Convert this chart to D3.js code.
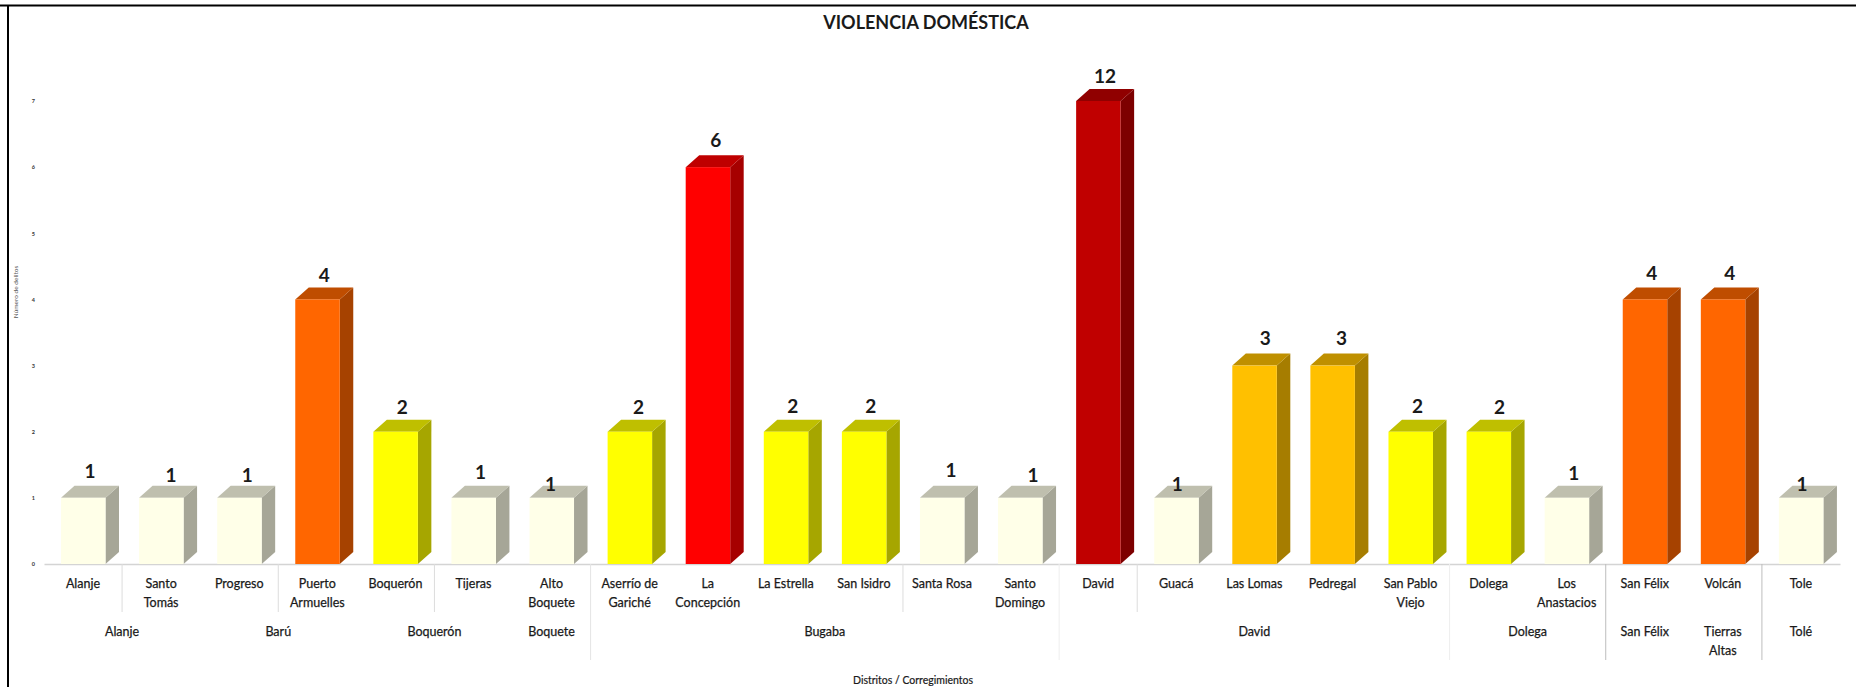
<!DOCTYPE html>
<html>
<head>
<meta charset="utf-8">
<script src="https://cdn.jsdelivr.net/npm/d3@7"></script>
<style>
  html, body { margin: 0; padding: 0; background: #fff; }
  svg { display: block; }
  text { font-family: Lato, "Open Sans", sans-serif; fill: #1a1a1a; }
</style>
</head>
<body>
<svg id="chart" width="1856" height="687"></svg>
<script>
// "|" marks the line break in a label
var corregimientos = ["Alanje", "Santo|Tomás", "Progreso", "Puerto|Armuelles", "Boquerón", "Tijeras",
    "Alto|Boquete", "Aserrío de|Gariché", "La|Concepción", "La Estrella", "San Isidro", "Santa Rosa",
    "Santo|Domingo", "David", "Guacá", "Las Lomas", "Pedregal", "San Pablo|Viejo", "Dolega",
    "Los|Anastacios", "San Félix", "Volcán", "Tole"];
var delitos = [1, 1, 1, 4, 2, 1, 1, 2, 6, 2, 2, 1, 1, 12, 1, 3, 3, 2, 2, 1, 4, 4, 1];
var distritos = ["Alanje", "Barú", "Boquerón", "Boquete", "Bugaba", "David", "Dolega", "San Félix", "Tierras|Altas", "Tolé"];
var distritoSize = [2, 2, 2, 1, 6, 5, 2, 1, 1, 1];
var yTicks = [0, 1, 2, 3, 4, 5, 6, 7];
var colorValues = [1, 2, 3, 4, 6, 12];
var colorFills = ["#ffffe8", "#ffff00", "#ffc000", "#ff6600", "#ff0000", "#c00000"];

var svg = d3.select("#chart");
var width = 1856, height = 687;
var base = 564, top7 = 101, left = 44, right = 1840;
var depthX = 13.5, depthY = 12, barW = 44.5, barOff = 17;

var x = d3.scaleBand().domain(d3.range(delitos.length)).range([left, right]);
// the axis stops at 7, the David bar (12) is cut there in the original
var y = d3.scaleLinear().domain([0, 7]).range([base, top7]).clamp(true);
var color = d3.scaleOrdinal().domain(colorValues).range(colorFills);

function shade(c, k) {
    var r = d3.rgb(c);
    return d3.rgb(r.r * k, r.g * k, r.b * k).formatHex();
}

// frame
svg.append("line").attr("x1", 0).attr("x2", width).attr("y1", 5.5).attr("y2", 5.5).attr("stroke", "#000").attr("stroke-width", 2);
svg.append("line").attr("x1", 8).attr("x2", 8).attr("y1", 5).attr("y2", height).attr("stroke", "#000").attr("stroke-width", 2);

svg.append("text").attr("x", 926).attr("y", 29).attr("text-anchor", "middle")
    .attr("font-size", 18).attr("font-weight", 700).text("VIOLENCIA DOMÉSTICA");

// y axis
var yAxis = svg.append("g").attr("transform", "translate(" + left + ",0)")
    .call(d3.axisLeft(y).tickValues(yTicks).tickSize(0).tickPadding(9).tickFormat(d3.format("d")));
yAxis.select(".domain").remove();
yAxis.selectAll("text").attr("font-size", 5.5).attr("font-weight", 700).attr("font-family", "Lato").style("fill", "#333");

svg.append("text").attr("transform", "translate(18,292) rotate(-90)").attr("text-anchor", "middle")
    .attr("font-size", 6.5).style("fill", "#555").text("Número de delitos");

// x axis line
var xAxis = svg.append("g").attr("transform", "translate(0," + base + ")")
    .call(d3.axisBottom(x).tickSize(0).tickFormat(""));
xAxis.select(".domain").attr("stroke", "#d4d4d4").attr("stroke-width", 1.5);

// bars
var bars = svg.append("g").selectAll("g").data(delitos).enter().append("g");

bars.append("polygon").attr("fill", function(d) { return shade(color(d), 0.65); })
    .attr("points", function(d, i) {
        var x1 = x(i) + barOff + barW;
        return [[x1, y(d)], [x1 + depthX, y(d) - depthY], [x1 + depthX, base - depthY], [x1, base]].join(" ");
    });
bars.append("polygon").attr("fill", function(d) { return shade(color(d), 0.75); })
    .attr("points", function(d, i) {
        var x0 = x(i) + barOff, x1 = x0 + barW;
        return [[x0, y(d)], [x0 + depthX, y(d) - depthY], [x1 + depthX, y(d) - depthY], [x1, y(d)]].join(" ");
    });
bars.append("rect").attr("fill", function(d) { return color(d); })
    .attr("x", function(d, i) { return x(i) + barOff; })
    .attr("y", function(d) { return y(d); })
    .attr("width", barW)
    .attr("height", function(d) { return base - y(d); });

// the labels were dragged by hand in the original, dx/dy by bar index
var nudge = { 0: [0, -1], 1: [3, 3], 2: [1, 3], 3: [0, 2], 4: [0, 1], 6: [-8, 12], 7: [2, 1], 8: [1, -1], 11: [2, -2],
    12: [6, 3], 13: [0, 1], 14: [-6, 12], 15: [4, -2], 16: [2, -2], 18: [4, 1], 19: [0, 1], 22: [-6, 12] };
svg.append("g").selectAll("text").data(delitos).enter().append("text")
    .attr("text-anchor", "middle").attr("font-size", 19).attr("font-weight", 700)
    .attr("x", function(d, i) { return x(i) + barOff + (barW + depthX) / 2 + (nudge[i] ? nudge[i][0] : 0); })
    .attr("y", function(d, i) { return y(d) - depthY - 7 + (nudge[i] ? nudge[i][1] : 0); })
    .text(function(d) { return d; });

function multiline(sel, xf, y0, lineH, fs) {
    sel.each(function(d, i) {
        var t = d3.select(this).attr("text-anchor", "middle").attr("font-size", fs)
            .attr("stroke", "#1a1a1a").attr("stroke-width", 0.25);
        d.split("|").forEach(function(s, k) {
            t.append("tspan").attr("x", xf(d, i)).attr("y", y0 + k * lineH).text(s);
        });
    });
}

svg.append("g").selectAll("text").data(corregimientos).enter().append("text")
    .call(multiline, function(d, i) { return x(i) + x.bandwidth() / 2; }, 588, 19, 12.5);

var acc = d3.cumsum(distritoSize);
svg.append("g").selectAll("text").data(distritos).enter().append("text")
    .call(multiline, function(d, i) {
        var from = i ? acc[i - 1] : 0;
        return left + (from + distritoSize[i] / 2) * x.step();
    }, 636, 19, 12.5);

// separators under the axis
var seps = [[1, 612, "#dcdcdc"], [3, 612, "#dcdcdc"], [5, 612, "#dcdcdc"], [7, 660, "#e4e4e4"], [11, 612, "#dcdcdc"],
            [13, 660, "#eeeeee"], [14, 612, "#dcdcdc"], [18, 660, "#eeeeee"], [20, 660, "#bdbdbd"], [22, 660, "#bdbdbd"]];
svg.append("g").selectAll("line").data(seps).enter().append("line")
    .attr("x1", function(d) { return left + d[0] * x.step(); })
    .attr("x2", function(d) { return left + d[0] * x.step(); })
    .attr("y1", base).attr("y2", function(d) { return d[1]; })
    .attr("stroke", function(d) { return d[2]; });

svg.append("text").attr("x", 913).attr("y", 684).attr("text-anchor", "middle")
    .attr("font-size", 10.5).attr("stroke", "#1a1a1a").attr("stroke-width", 0.2).text("Distritos / Corregimientos");
</script>
</body>
</html>
